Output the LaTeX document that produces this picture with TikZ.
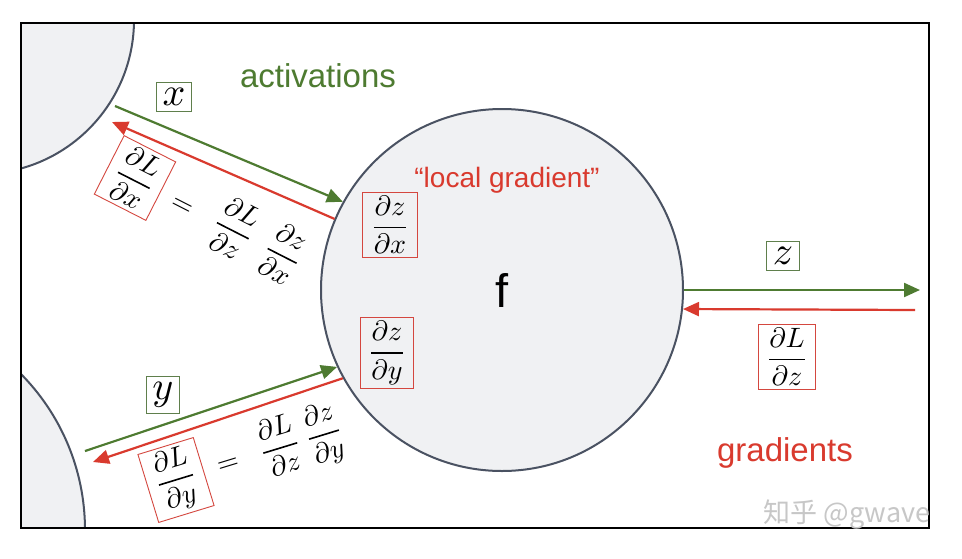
\documentclass[tikz,border=0pt]{standalone}
\usepackage{amsmath}
\usepackage{fontspec}
\DeclareFontShape{OML}{cmm}{m}{it}{<-> cmmi10}{}
\DeclareFontShape{OMS}{cmsy}{m}{n}{<-> cmsy10}{}
\DeclareFontShape{OMX}{cmex}{m}{n}{<-> cmex10}{}
\DeclareFontShape{OT1}{cmr}{m}{n}{<-> cmr10}{}
\newfontfamily\lsans{Liberation Sans}
\newfontfamily\cjkf{Noto Sans CJK SC}
\newcommand{\dpart}[2]{\genfrac{}{}{1.6pt}{0}{\partial #1}{\partial #2}}
\usetikzlibrary{arrows.meta}
\definecolor{agreen}{HTML}{4E7B31}
\definecolor{gred}{HTML}{D93A2E}
\definecolor{boxred}{HTML}{D4473F}
\definecolor{boxgreen}{HTML}{5F7F4C}
\definecolor{nodefill}{HTML}{F0F1F3}
\definecolor{nodeline}{HTML}{4A5262}
\begin{document}
\begin{tikzpicture}[x=1pt,y=1pt,
  bigmath/.style={font=\fontsize{28}{32}\selectfont},
  lblbox/.style={draw=boxgreen, line width=0.9pt, inner xsep=6pt, inner ysep=6pt, font=\fontsize{40}{44}\selectfont},
  fracbox/.style={draw=boxred, line width=0.9pt, inner xsep=10pt, inner ysep=4pt, bigmath},
  eqrhs/.style={bigmath, inner sep=0pt, anchor=west},
  fwd/.style={draw=agreen, line width=2.2pt, -{Triangle[length=16pt,width=14pt]}},
  bwd/.style={draw=gred, line width=2.2pt, -{Triangle[length=16pt,width=14pt]}},
  sidecircle/.style={fill=nodefill, draw=nodeline, line width=2pt},
  gtext/.style={text=agreen, font=\lsans\fontsize{33}{38}\selectfont},
  rtext/.style={text=gred, font=\lsans\fontsize{33}{38}\selectfont}
]
\useasboundingbox (0,0) rectangle (962,-558);
\fill[white] (0,0) rectangle (962,-558);

% partial neighbouring nodes
\begin{scope}
  \clip (21,-23) rectangle (929,-528);
  \path[sidecircle] (-20,-20) circle (154);
  \path[sidecircle] (-137,-530) circle (222);
\end{scope}
\draw[line width=2.4pt] (21,-23) rectangle (929,-528);

% main gate
\node[circle, fill=nodefill, draw=nodeline, line width=2pt, minimum size=362pt, inner sep=0pt,
      font=\lsans\fontsize{47}{50}\selectfont] (f) at (502,-290) {f};

% labels
\node[gtext] (act) at (318,-76) {activations};
\node[rtext] (grad) at (785,-453) {gradients};
\node[text=gred, font=\lsans\fontsize{28}{32}\selectfont] (loc) at (507,-180) {“local gradient”};

% local gradients
\node[fracbox] (dzdx) at (390,-225) {$\dpart{z}{x}$};
\node[fracbox] (dzdy) at (387,-353) {$\dpart{z}{y}$};

% input x
\coordinate (xs) at (115,-106);
\coordinate (gxe) at (112,-122);
\draw[fwd] (xs) -- (f.151);
\draw[bwd] (f.157) -- (gxe);
\node[lblbox] (xl) at (174,-97) {$x$};
\node[fracbox, rotate=-27] (dldx) at (135,-178) {$\dpart{L}{x}$};
\node[eqrhs, rotate=-27] (eqx) at (dldx.east) {$\hspace{14pt}=\hspace{19pt}\dpart{L}{z}\hspace{19pt}\dpart{z}{x}$};

% input y
\coordinate (ys) at (85,-451);
\coordinate (gye) at (93,-462);
\draw[fwd] (ys) -- (f.205);
\draw[bwd] (f.209) -- (gye);
\node[lblbox] (yl) at (163,-395) {$y$};
\node[fracbox, rotate=17] (dldy) at (176,-480) {$\dpart{L}{y}$};
\node[eqrhs, rotate=17] (eqy) at (dldy.east) {$\hspace{14pt}=\hspace{17pt}\dpart{L}{z}\hspace{10pt}\dpart{z}{y}$};

% output z
\coordinate (ze) at (920,-290);
\coordinate (gzs) at (915,-310);
\draw[fwd] (f.east) -- (ze);
\draw[bwd] (gzs) -- (f.-6.3);
\node[lblbox] (zl) at (783,-256) {$z$};
\node[fracbox] (dldz) at (787,-357) {$\dpart{L}{z}$};

% watermark
\node[text=black!22, font=\cjkf\fontsize{27}{30}\selectfont] (wm) at (847,-515) {知乎 @gwave};
\end{tikzpicture}
\end{document}
